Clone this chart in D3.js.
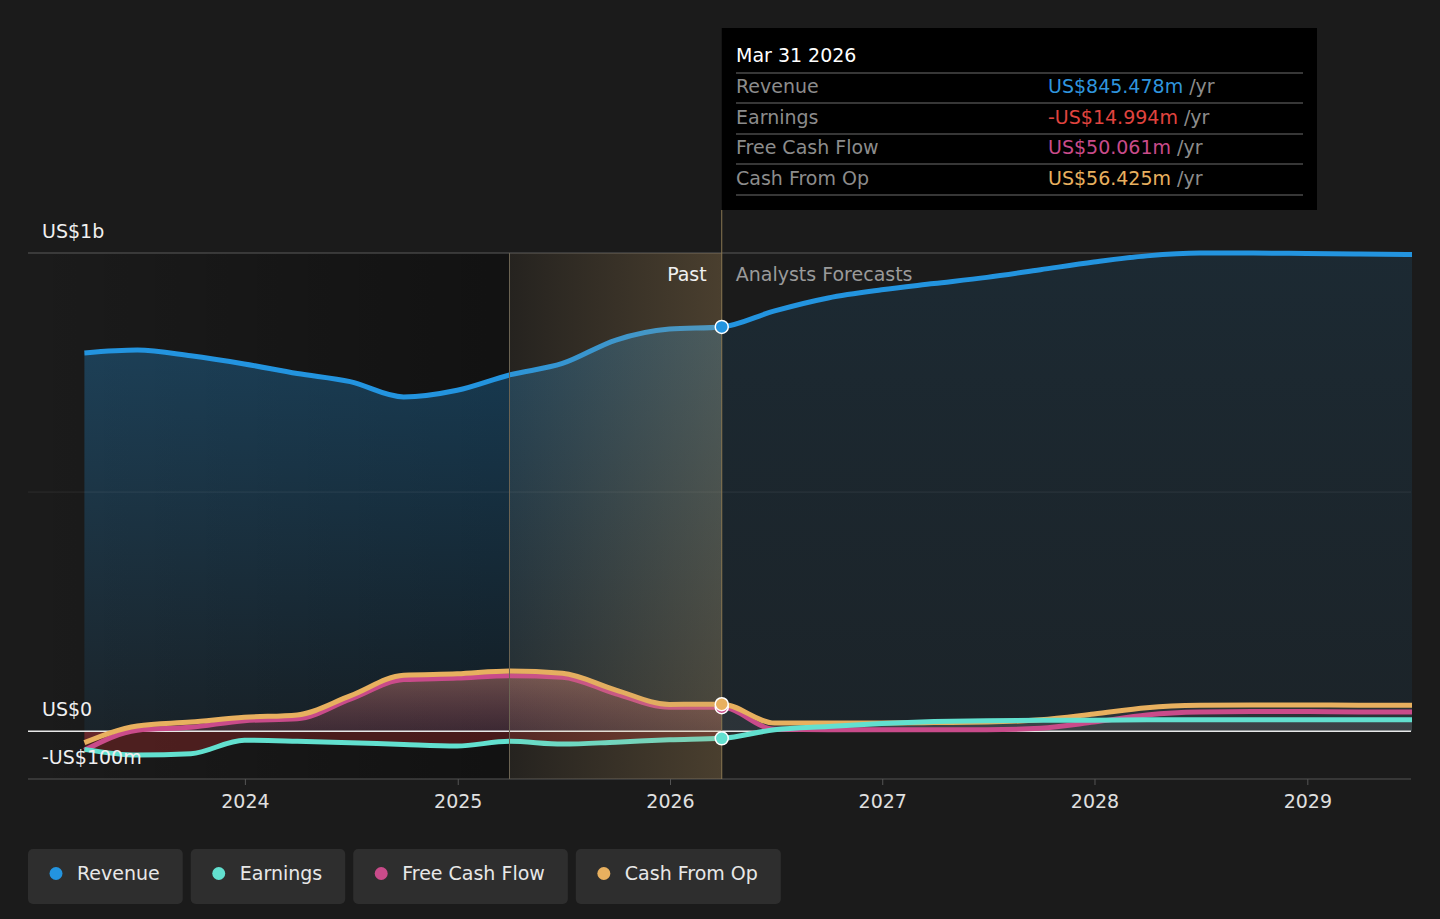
<!DOCTYPE html>
<html>
<head>
<meta charset="utf-8">
<script src="https://cdn.jsdelivr.net/npm/d3@7/dist/d3.min.js"></script>
<style>
body { margin: 0; background: #1b1b1b; }
svg { display: block; font-family: "DejaVu Sans", sans-serif; }
</style>
</head>
<body>
<div id="chart"></div>
<script>
// quarterly points, values in US$m
var pastDates = ["2023-03-31", "2023-06-30", "2023-09-30", "2023-12-31", "2024-03-31", "2024-06-30", "2024-09-30",
    "2024-12-31", "2025-03-31", "2025-06-30", "2025-09-30", "2025-12-31", "2026-03-31"];
var forecastDates = ["2026-03-31", "2026-06-30", "2026-09-30", "2026-12-31", "2027-03-31", "2027-06-30", "2027-09-30",
    "2027-12-31", "2028-03-31", "2028-06-30", "2028-09-30", "2028-12-31", "2029-03-31", "2029-06-30"];

var revenuePast = [791, 797, 785, 768, 748, 731, 699, 713, 745, 769, 818, 841, 845.478];
var revenueForecast = [845.478, 879, 906, 923, 936, 949, 965, 981, 994, 1000, 1000, 999, 998, 997];
var earningsPast = [-38, -50, -47, -19, -21, -24, -28, -31, -21, -27, -23, -18, -14.994];
var earningsForecast = [-14.994, 3, 10, 16, 20, 22, 23, 23, 24, 24, 24, 24, 24, 24];
var fcfPast = [-40, 2, 8, 22, 26, 67, 108, 111, 116, 113, 78, 50, 50.061];
var fcfForecast = [50.061, 4, 3, 3, 3, 3, 6, 19, 34, 40, 41, 41, 40, 40];
var cfoPast = [-24, 11, 19, 29, 34, 74, 117, 120, 126, 121, 86, 56, 56.425];
var cfoForecast = [56.425, 17, 17, 17, 18, 19, 24, 36, 49, 54, 55, 55, 54, 54];

var yearTicks = [2024, 2025, 2026, 2027, 2028, 2029];
var yTicks = [-100, 0, 1000];
var yTickLabels = ["-US$100m", "US$0", "US$1b"];

var seriesNames = ["Revenue", "Earnings", "Free Cash Flow", "Cash From Op"];
var seriesColors = ["#2394df", "#62e0cf", "#c94b8a", "#e8b05f"];
var tooltipDate = "Mar 31 2026";
var tooltipValues = ["US$845.478m", "-US$14.994m", "US$50.061m", "US$56.425m"];
var tooltipColors = ["#2f95de", "#e0443f", "#c94b8a", "#e8b05f"];

var parse = d3.timeParse("%Y-%m-%d");
var width = 1440, height = 919;

var x = d3.scaleTime()
    .domain([parse("2022-12-24"), parse("2029-06-30")])
    .range([28, 1412]);
var y = d3.scaleLinear().domain([-100, 1000]).range([779, 253]);

var zip = function(dates, vals) {
    return dates.map(function(d, i) { return {date: parse(d), v: vals[i]}; });
};

var svg = d3.select("#chart").append("svg")
    .attr("width", width).attr("height", height);
var defs = svg.append("defs");

var grad = function(id, x1, y1, x2, y2, stops) {
    var g = defs.append("linearGradient").attr("id", id)
        .attr("x1", x1).attr("y1", y1).attr("x2", x2).attr("y2", y2);
    stops.forEach(function(s) {
        g.append("stop").attr("offset", s[0]).attr("stop-color", s[1]).attr("stop-opacity", s[2]);
    });
};
grad("dim", 0, 0, 1, 0, [[0, "#000", 0], [1, "#000", 0.35]]);
grad("band", 0, 0, 1, 0, [[0, "#c9a063", 0.06], [1, "#c9a063", 0.27]]);
grad("revPast", 0, 0, 0, 1, [[0, "#2394df", 0.32], [1, "#2394df", 0.08]]);
grad("revFc", 0, 0, 0, 1, [[0, "#2394df", 0.12], [1, "#2394df", 0.07]]);
grad("cashPast", 0, 0, 0, 1, [[0, "#e8907a", 0.42], [1, "#c94b6a", 0.18]]);

var xPast = x(parse("2025-03-31")), xNow = x(parse("2026-03-31"));

// darker past region
svg.append("rect")
    .attr("x", 28).attr("y", 253)
    .attr("width", xPast - 28).attr("height", y(-100) - 253)
    .attr("fill", "url(#dim)");

var area = d3.area().curve(d3.curveMonotoneX)
    .x(function(d) { return x(d.date); })
    .y0(y(0))
    .y1(function(d) { return y(d.v); });
var line = d3.line().curve(d3.curveMonotoneX)
    .x(function(d) { return x(d.date); })
    .y(function(d) { return y(d.v); });

svg.append("path").datum(zip(pastDates, revenuePast)).attr("d", area).attr("fill", "url(#revPast)");
svg.append("path").datum(zip(forecastDates, revenueForecast)).attr("d", area).attr("fill", "url(#revFc)");
svg.append("path").datum(zip(pastDates, cfoPast)).attr("d", area).attr("fill", "url(#cashPast)");
svg.append("path").datum(zip(pastDates, earningsPast)).attr("d", area).attr("fill", "#b02a2a").attr("fill-opacity", 0.35);
svg.append("path").datum(zip(forecastDates, cfoForecast)).attr("d", area).attr("fill", "#ffffff").attr("fill-opacity", 0.07);
svg.append("path").datum(zip(forecastDates, earningsForecast)).attr("d", area).attr("fill", "#ffffff").attr("fill-opacity", 0.08);

// grid
svg.append("line").attr("x1", 28).attr("x2", 1411).attr("y1", y(1000)).attr("y2", y(1000))
    .attr("stroke", "#5a5a5a").attr("stroke-width", 1);
svg.append("line").attr("x1", 28).attr("x2", 1411).attr("y1", y(500)).attr("y2", y(500))
    .attr("stroke", "#ffffff").attr("stroke-opacity", 0.08);
svg.append("line").attr("x1", 28).attr("x2", 1411).attr("y1", y(0)).attr("y2", y(0))
    .attr("stroke", "#e8e8e8").attr("stroke-width", 1.5);

// x axis
var xAxis = svg.append("g").attr("transform", "translate(0," + y(-100) + ")")
    .call(d3.axisBottom(x)
        .tickValues(yearTicks.map(function(t) { return new Date(t, 0, 1); }))
        .tickFormat(d3.timeFormat("%Y"))
        .tickSize(6).tickPadding(10));
xAxis.select(".domain").attr("stroke", "#555").attr("d", "M28,0H1411");
xAxis.selectAll(".tick line").attr("stroke", "#555");
xAxis.selectAll(".tick text").attr("fill", "#e0e0e0").attr("font-size", 19)
    .attr("font-family", "DejaVu Sans");

// lines
var lineData = [
    [revenuePast, revenueForecast],
    [earningsPast, earningsForecast],
    [fcfPast, fcfForecast],
    [cfoPast, cfoForecast]
];
[0, 2, 3, 1].forEach(function(i) {
    var pts = zip(pastDates, lineData[i][0]).concat(zip(forecastDates, lineData[i][1]).slice(1));
    svg.append("path").datum(pts).attr("d", line)
        .attr("fill", "none").attr("stroke", seriesColors[i]).attr("stroke-width", 5)
        .attr("stroke-linejoin", "round");
});

// highlighted last year of the past
svg.append("rect")
    .attr("x", xPast).attr("y", 253)
    .attr("width", xNow - xPast).attr("height", y(-100) - 253)
    .attr("fill", "url(#band)");
svg.append("line").attr("x1", xPast).attr("x2", xPast).attr("y1", 253).attr("y2", y(-100))
    .attr("stroke", "#6d6553").attr("stroke-width", 1);
svg.append("line").attr("x1", xNow).attr("x2", xNow).attr("y1", 210).attr("y2", y(-100))
    .attr("stroke", "#8a7752").attr("stroke-width", 1);

// y labels
svg.selectAll(".ylab").data(yTicks).enter().append("text")
    .attr("class", "ylab")
    .attr("x", 42)
    .attr("y", function(d) { return y(d) - 15; })
    .attr("fill", "#f0f0f0").attr("font-size", 19)
    .text(function(d, i) { return yTickLabels[i]; });

svg.append("text").attr("x", xNow - 15).attr("y", 281).attr("text-anchor", "end")
    .attr("fill", "#f0f0f0").attr("font-size", 19).text("Past");
svg.append("text").attr("x", xNow + 14).attr("y", 281)
    .attr("fill", "#9a9a9a").attr("font-size", 19).text("Analysts Forecasts");

// markers at the last reported point
var nowVals = [revenuePast, earningsPast, fcfPast, cfoPast].map(function(a) { return a[a.length - 1]; });
[0, 1, 2, 3].forEach(function(i) {
    svg.append("circle").attr("cx", xNow).attr("cy", y(nowVals[i])).attr("r", 6.5)
        .attr("fill", seriesColors[i]).attr("stroke", "#fff").attr("stroke-width", 1.5);
});

// tooltip
var tip = svg.append("g");
tip.append("rect").attr("x", xNow).attr("y", 28).attr("width", 1317 - xNow).attr("height", 182).attr("fill", "#000");
tip.append("text").attr("x", 736).attr("y", 62).attr("fill", "#fff").attr("font-size", 19).text(tooltipDate);
[73, 103, 134, 164, 195].forEach(function(ly) {
    tip.append("line").attr("x1", 736).attr("x2", 1303).attr("y1", ly).attr("y2", ly)
        .attr("stroke", "#4a4a4a").attr("stroke-width", 1.5);
});
seriesNames.forEach(function(name, i) {
    var ty = 93 + i * 30.5;
    tip.append("text").attr("x", 736).attr("y", ty).attr("fill", "#8c8c8c").attr("font-size", 19).text(name);
    var t = tip.append("text").attr("x", 1048).attr("y", ty).attr("font-size", 19);
    t.append("tspan").attr("fill", tooltipColors[i]).text(tooltipValues[i]);
    t.append("tspan").attr("fill", "#8c8c8c").text(" /yr");
});

// legend
var lx = 28;
seriesNames.forEach(function(name, i) {
    var g = svg.append("g").attr("transform", "translate(" + lx + ",849)");
    var rect = g.append("rect").attr("height", 55).attr("rx", 5).attr("fill", "#2e2e2e");
    g.append("circle").attr("cx", 28).attr("cy", 24.5).attr("r", 6.5).attr("fill", seriesColors[i]);
    var txt = g.append("text").attr("x", 49).attr("y", 31).attr("fill", "#e8e8e8").attr("font-size", 19).text(name);
    var w = txt.node().getComputedTextLength() + 72;
    rect.attr("width", w);
    lx += w + 8;
});
</script>
</body>
</html>
